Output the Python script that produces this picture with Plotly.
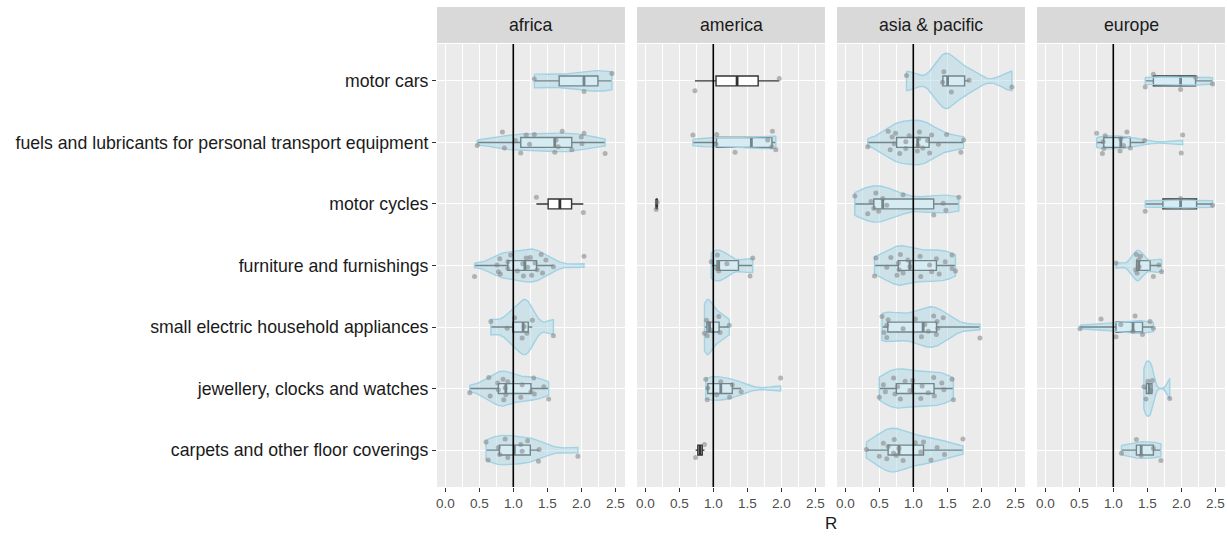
import numpy as np
import plotly.graph_objects as go

# Facets (left to right) and categories (bottom to top on the y axis)
regions = ["africa", "america", "asia & pacific", "europe"]
categories = [
    "carpets and other floor coverings",
    "jewellery, clocks and watches",
    "small electric household appliances",
    "furniture and furnishings",
    "motor cycles",
    "fuels and lubricants for personal transport equipment",
    "motor cars",
]
x_ticks = [0.0, 0.5, 1.0, 1.5, 2.0, 2.5]

# R values per region, one list per category in the order above
africa_r = [
    [0.60, 0.63, 0.78, 0.80, 0.88, 0.92, 1.11, 1.13, 1.21, 1.37, 1.38, 1.95],
    [0.36, 0.64, 0.66, 0.77, 0.78, 0.85, 0.86, 0.88, 0.89, 0.92, 1.11, 1.13, 1.26, 1.30, 1.31, 1.45, 1.52],
    [0.67, 0.91, 1.02, 1.13, 1.16, 1.20, 1.28, 1.59],
    [0.43, 0.76, 0.78, 0.80, 0.81, 0.92, 0.92, 0.96, 1.06, 1.14, 1.15, 1.19, 1.21, 1.25, 1.27, 1.32,
     1.35, 1.41, 1.43, 1.48, 1.59, 2.04],
    [1.34, 2.03],
    [0.47, 0.84, 0.87, 1.03, 1.11, 1.19, 1.24, 1.31, 1.61, 1.63, 1.66, 1.72, 1.86, 2.00, 2.01, 2.04, 2.35],
    [1.31, 2.04, 2.45],
]
america_r = [
    [0.74, 0.87],
    [0.89, 0.91, 0.92, 1.05, 1.11, 1.24, 1.28, 1.41, 1.99],
    [0.87, 0.90, 0.91, 0.93, 0.96, 1.08, 1.10, 1.235],
    [0.97, 1.05, 1.06, 1.08, 1.20, 1.54, 1.58],
    [0.16, 0.175],
    [0.70, 1.04, 1.05, 1.32, 1.80, 1.86, 1.87, 1.92],
    [0.73, 1.97],
]
asia_r = [
    [0.31, 0.50, 0.56, 0.61, 0.63, 0.71, 0.72, 0.75, 0.79, 0.85, 1.03, 1.11, 1.15, 1.26, 1.35, 1.46, 1.73],
    [0.50, 0.56, 0.59, 0.71, 0.73, 0.77, 0.81, 0.88, 0.95, 0.99, 1.11, 1.13, 1.22, 1.30, 1.31, 1.42,
     1.45, 1.57, 1.59],
    [0.54, 0.57, 0.61, 0.61, 0.63, 0.85, 1.03, 1.12, 1.17, 1.22, 1.30, 1.34, 1.35, 1.36, 1.44, 1.98],
    [0.43, 0.45, 0.61, 0.67, 0.76, 0.78, 0.79, 0.81, 0.85, 0.92, 0.95, 1.10, 1.11, 1.24, 1.27, 1.34,
     1.38, 1.47, 1.57, 1.57, 1.62],
    [0.14, 0.33, 0.38, 0.42, 0.45, 0.49, 0.55, 0.61, 0.85, 1.30, 1.44, 1.48, 1.67],
    [0.33, 0.63, 0.66, 0.69, 0.72, 0.74, 0.80, 0.89, 0.89, 0.94, 1.06, 1.08, 1.07, 1.09, 1.14, 1.21,
     1.24, 1.27, 1.37, 1.49, 1.70, 1.74],
    [0.90, 1.43, 1.45, 1.56, 1.82, 2.45],
]
europe_r = [
    [1.12, 1.34, 1.41, 1.59, 1.70],
    [1.45, 1.48, 1.51, 1.55, 1.575, 1.83],
    [0.51, 0.82, 1.04, 1.11, 1.29, 1.32, 1.43, 1.54, 1.59],
    [1.04, 1.33, 1.34, 1.35, 1.37, 1.38, 1.40, 1.59, 1.67, 1.71],
    [1.47, 1.99, 2.46],
    [0.755, 0.84, 0.85, 0.86, 0.88, 1.10, 1.11, 1.15, 1.20, 1.25, 1.46, 2.00, 2.02],
    [1.47, 1.59, 1.99, 2.21, 2.46],
]
region_values = [africa_r, america_r, asia_r, europe_r]

# Fixed vertical jitter pattern for the sample points (category units)
JITTER = [0.13, -0.16, 0.04, -0.07, 0.18, -0.12, 0.09, -0.02, 0.15, -0.18, 0.01,
          -0.10, 0.11, -0.14, 0.06, -0.05, 0.17, -0.09, 0.03, -0.17, 0.12, -0.03]

# Layout geometry (pixels)
W, H = 1227, 536
panel_left = [437, 637, 837, 1037]
panel_w = 188
panel_top, panel_bottom = 44, 487
strip_top, strip_bottom = 7, 43
x_range = [-0.122, 2.643]

VIOLIN_WIDTH = 0.9
BOX_WIDTH = 0.16
PANEL_BG = "#EBEBEB"
VIOLIN_FILL = "rgba(173,216,230,0.5)"
VIOLIN_LINE = "rgba(160,210,228,1)"
BOX_LINE = "#333333"
POINT_COLOR = "rgba(130,130,130,0.55)"


def bw_nrd0(v):
    v = np.asarray(v, dtype=float)
    hi = np.std(v, ddof=1)
    q75, q25 = np.percentile(v, [75, 25])
    lo = min(hi, (q75 - q25) / 1.34)
    if lo <= 0:
        lo = hi if hi > 0 else 1.0
    return 0.9 * lo * len(v) ** (-0.2)


def kde_trimmed(v, n_grid=512):
    v = np.asarray(v, dtype=float)
    bw = bw_nrd0(v)
    grid = np.linspace(v.min(), v.max(), n_grid)
    z = (grid[:, None] - v[None, :]) / bw
    dens = np.exp(-0.5 * z ** 2).sum(axis=1) / (len(v) * bw * np.sqrt(2 * np.pi))
    return grid, dens


def box_stats(v):
    v = np.sort(np.asarray(v, dtype=float))
    q1, med, q3 = np.percentile(v, [25, 50, 75])
    iqr = q3 - q1
    lo = v[v >= q1 - 1.5 * iqr].min()
    hi = v[v <= q3 + 1.5 * iqr].max()
    return q1, med, q3, lo, hi


def py(px):
    return (H - px) / H


fig = go.Figure()
layout = dict(
    width=W, height=H,
    margin=dict(l=0, r=0, t=0, b=0),
    paper_bgcolor="white",
    plot_bgcolor=PANEL_BG,
    showlegend=False,
    boxmode="overlay",
    font=dict(family="Liberation Sans, Arial, sans-serif"),
)
shapes = []
annotations = []

for k, (region, vals_by_cat) in enumerate(zip(regions, region_values)):
    sfx = "" if k == 0 else str(k + 1)
    xa, ya = "x" + sfx, "y" + sfx
    x0p = panel_left[k] / W
    x1p = (panel_left[k] + panel_w) / W

    # densities of every violin in this facet, scaled to a common maximum (equal areas)
    dens_by_cat = {ci: kde_trimmed(v) for ci, v in enumerate(vals_by_cat) if len(v) >= 3}
    panel_max = max(d.max() for _, d in dens_by_cat.values())

    for ci, vals in enumerate(vals_by_cat):
        vals = list(vals)
        n = len(vals)
        q1, med, q3, lo, hi = box_stats(vals)

        # box and whiskers
        fig.add_trace(go.Box(
            y=[ci], q1=[q1], median=[med], q3=[q3],
            lowerfence=[lo], upperfence=[hi],
            orientation="h", width=BOX_WIDTH, whiskerwidth=0,
            boxpoints=False, fillcolor="white",
            line=dict(color=BOX_LINE, width=1.4),
            xaxis=xa, yaxis=ya, hoverinfo="skip",
        ))
        # heavier median bar
        fig.add_trace(go.Scatter(
            x=[med, med], y=[ci - BOX_WIDTH / 2, ci + BOX_WIDTH / 2],
            mode="lines", line=dict(color=BOX_LINE, width=2.8),
            xaxis=xa, yaxis=ya, hoverinfo="skip",
        ))
        # violin outline on top of the box
        if ci in dens_by_cat:
            grid, dens = dens_by_cat[ci]
            half = dens / panel_max * VIOLIN_WIDTH / 2
            vx = np.concatenate([grid, grid[::-1], grid[:1]])
            vy = np.concatenate([ci + half, (ci - half)[::-1], [ci + half[0]]])
            fig.add_trace(go.Scatter(
                x=vx, y=vy, mode="lines", fill="toself",
                fillcolor=VIOLIN_FILL,
                line=dict(color=VIOLIN_LINE, width=1.4),
                xaxis=xa, yaxis=ya, hoverinfo="skip",
            ))
        # jittered sample points
        jit = [ci + JITTER[(i + 3 * ci + 5 * k) % len(JITTER)] for i in range(n)]
        fig.add_trace(go.Scatter(
            x=vals, y=jit, mode="markers",
            marker=dict(size=5, color=POINT_COLOR, line=dict(width=0)),
            xaxis=xa, yaxis=ya, hoverinfo="skip",
        ))

    layout["xaxis" + sfx] = dict(
        domain=[x0p, x1p], anchor=ya, range=x_range,
        tickmode="array", tickvals=x_ticks,
        ticktext=[f"{t:.1f}" for t in x_ticks],
        ticks="outside", ticklen=4, tickwidth=1.1, tickcolor="#333333",
        tickfont=dict(size=13.5, color="#4D4D4D"),
        showgrid=True, gridcolor="white", gridwidth=1.1,
        minor=dict(tickmode="array", tickvals=[0.25, 0.75, 1.25, 1.75, 2.25],
                   showgrid=True, gridcolor="white", gridwidth=0.5, ticks=""),
        zeroline=False, showline=False, fixedrange=True,
    )
    layout["yaxis" + sfx] = dict(
        domain=[py(panel_bottom), py(panel_top)], anchor=xa,
        range=[-0.6, 6.6],
        tickmode="array", tickvals=list(range(len(categories))),
        ticktext=categories, showticklabels=(k == 0),
        ticks="outside" if k == 0 else "", ticklen=4, tickwidth=1.1,
        tickcolor="#333333",
        tickfont=dict(size=17.7, color="#1A1A1A"),
        showgrid=True, gridcolor="white", gridwidth=1.1,
        zeroline=False, showline=False, fixedrange=True,
    )

    # facet strip
    shapes.append(dict(
        type="rect", xref="paper", yref="paper",
        x0=x0p, x1=x1p, y0=py(strip_bottom), y1=py(strip_top),
        fillcolor="#D9D9D9", line=dict(width=0), layer="below",
    ))
    annotations.append(dict(
        text=region, xref="paper", yref="paper",
        x=(x0p + x1p) / 2, y=py((strip_top + strip_bottom) / 2),
        xanchor="center", yanchor="middle", showarrow=False,
        font=dict(size=17.7, color="#1A1A1A"),
    ))
    # reference line at R = 1
    shapes.append(dict(
        type="line", xref=xa, yref=ya + " domain",
        x0=1, x1=1, y0=0, y1=1,
        line=dict(color="black", width=1.6), layer="above",
    ))

annotations.append(dict(
    text="R", xref="paper", yref="paper",
    x=(panel_left[0] + panel_left[-1] + panel_w) / 2 / W, y=py(523),
    xanchor="center", yanchor="middle", showarrow=False,
    font=dict(size=17, color="#1A1A1A"),
))

layout["shapes"] = shapes
layout["annotations"] = annotations
fig.update_layout(**layout)
fig.write_html("out.html")
